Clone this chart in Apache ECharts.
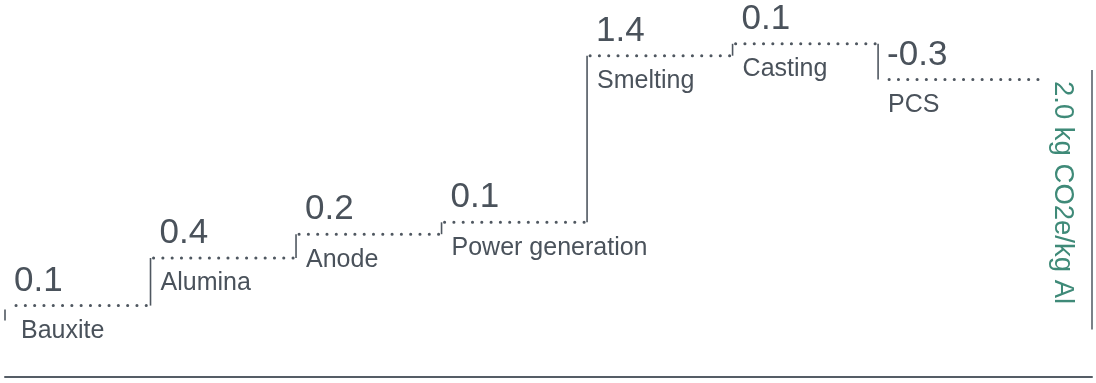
<!DOCTYPE html>
<html>
<head>
<meta charset="utf-8">
<script src="https://cdn.jsdelivr.net/npm/echarts@6/dist/echarts.min.js"></script>
<style>
html,body{margin:0;padding:0;background:#fff;}
#main{width:1096px;height:383px;}
</style>
</head>
<body>
<div id="main"></div>
<script type="text/javascript">
	// 各工序名称与排放值
	var stages = ["Bauxite","Alumina","Anode","Power generation","Smelting","Casting","PCS"];
	var values = [0.1, 0.4, 0.2, 0.1, 1.4, 0.1, -0.3];
	var valueLabels = ["0.1","0.4","0.2","0.1","1.4","0.1","-0.3"];
	var totalLabel = "2.0 kg CO2e/kg Al";

	var textColor = "#4a525b";
	var lineColor = "#4f5760";
	var totalColor = "#3f8a78";
	var fontFamily = "'Liberation Sans', Arial, sans-serif";

	// 累计值
	var levels = [];
	var sum = 0;
	values.forEach(function(v){
		sum = Math.round((sum + v)*10)/10;
		levels.push(sum);
	});
	var total = sum;

	var data = stages.map(function(name,index){
		return [index, levels[index], index===0 ? 0 : levels[index-1]];
	});
	data.push([stages.length, total, 0]);

	function renderItem(params, api){
		var i = api.value(0);
		var level = api.value(1);
		var prev = api.value(2);
		if(i === stages.length){
			// 总量竖线 + 旋转文字
			var xPos = 7.47;
			var top = api.coord([xPos, total + 0.08]);
			var bot = api.coord([xPos, -0.1]);
			var mid = api.coord([7.265, total/2 + 0.05]);
			return {
				type:'group',
				children:[
					{type:'line',shape:{x1:top[0],y1:top[1],x2:bot[0],y2:bot[1]},style:{stroke:lineColor,lineWidth:1.5}},
					{type:'text',x:mid[0],y:mid[1],rotation:-Math.PI/2,
						style:{text:totalLabel,fill:totalColor,fontSize:27.5,fontFamily:fontFamily,align:'center',verticalAlign:'middle'}}
				]
			};
		}
		var start = api.coord([i, level]);
		var end = api.coord([i+1, level]);
		var base = api.coord([i, prev]);
		var vTop = start[1];
		var vBot = base[1];
		if(i === 0){
			vTop = start[1] + 4;
			vBot = base[1] + 3;
		}
		var dotStart = start[0] + (i===0 || i===6 ? 11 : 3);
		var dotEnd = end[0] - 1;
		if(i === 6){ dotEnd = end[0] + 16; }
		return {
			type:'group',
			children:[
				{type:'line',shape:{x1:start[0],y1:vTop,x2:start[0],y2:vBot},style:{stroke:lineColor,lineWidth:1.6}},
				{type:'line',shape:{x1:dotStart,y1:start[1],x2:dotEnd,y2:start[1]},
					style:{stroke:lineColor,lineWidth:3,lineDash:[0.1,9.2],lineCap:'round'}},
				{type:'text',x:start[0]+9,y:start[1]-7,
					style:{text:valueLabels[i],fill:textColor,fontSize:35,fontFamily:fontFamily,align:'left',verticalAlign:'bottom'}},
				{type:'text',x:start[0]+(i===0 ? 16 : 10),y:start[1]+13,
					style:{text:stages[i],fill:textColor,fontSize:25,fontFamily:fontFamily,align:'left',verticalAlign:'top'}}
			]
		};
	}

	var myChart = echarts.init(document.getElementById("main"));
	var option = {
		animation:false,
		grid:{left:5,right:4,top:20,bottom:6},
		xAxis:{
			type:'value',
			min:0,
			max:7.47,
			splitLine:{show:false},
			axisTick:{show:false},
			axisLabel:{show:false},
			axisLine:{show:true,onZero:false,lineStyle:{color:'#555d66',width:2}}
		},
		yAxis:{
			type:'value',
			min:-0.5,
			max:2.5,
			show:false
		},
		series:[{
			type:'custom',
			renderItem:renderItem,
			data:data,
			clip:false
		}]
	};
	myChart.setOption(option);
</script>
</body>
</html>
